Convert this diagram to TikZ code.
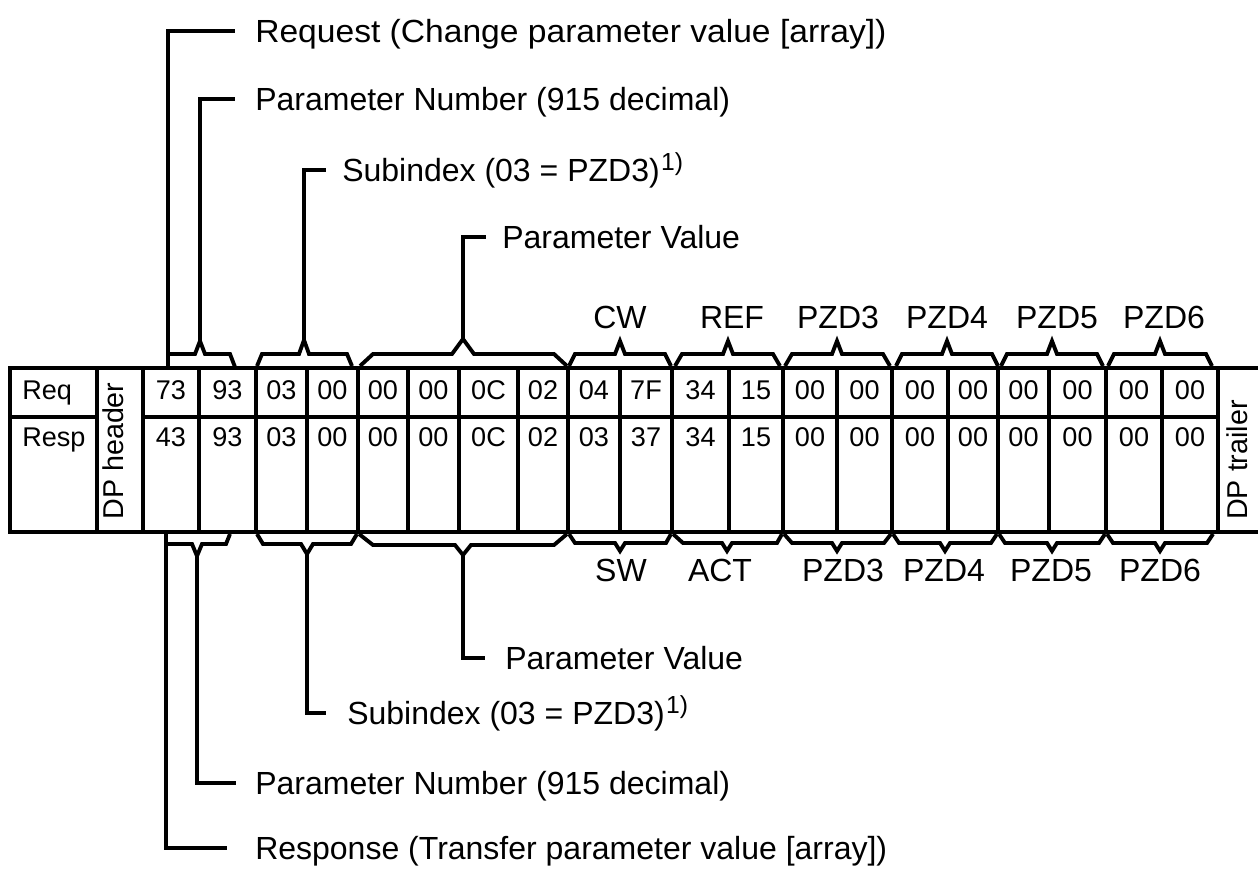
\documentclass[tikz,border=0pt]{standalone}
\usepackage{fontspec}
\setmainfont{Liberation Sans}
\newcommand{\fnmark}{\kern1pt\raisebox{8.5pt}{\fontsize{18.5}{20}\selectfont 1)}}
\begin{document}
\begin{tikzpicture}[x=0.75pt,y=-0.75pt,
  big/.style={font=\fontsize{24}{28}\selectfont, inner sep=0pt, text height=17.2pt, text depth=0pt},
  lbl/.style={big, anchor=west},
  num/.style={font=\fontsize{20.3}{24}\selectfont, inner sep=0pt, text height=14.5pt, text depth=0pt},
  dptext/.style={font=\fontsize{21.5}{25}\selectfont, inner sep=0pt, rotate=90, text height=15.4pt, text depth=0pt},
  outer/.style={line width=3.1pt},
  inner/.style={line width=2.7pt},
  brace/.style={line width=2.9pt, line join=miter},
  leader/.style={line width=3.7pt, line join=miter}]
\useasboundingbox (0,0) rectangle (1258,874);

% ---- table frame ----
\draw[outer] (10,368) -- (1258,368);
\draw[outer] (10,532) -- (1258,532);
\draw[outer] (10,366.4) -- (10,533.6);
\foreach \xx in {97,143,199,256,307,358,408,459,518,568,620,672,729,783,837,892,948,998,1049,1106,1162,1218}
  \draw[inner] (\xx,368) -- (\xx,532);
\draw[inner] (10,417) -- (97,417);
\draw[inner] (143,417) -- (1218,417);

% ---- cell texts ----
\node[num, anchor=west] (req) at (22,390) {Req};
\node[num, anchor=west] (resp) at (22,437) {Resp};
\node[dptext] (dph) at (113.5,451) {DP header};
\node[dptext] (dpt) at (1237,460) {DP trailer};
\foreach \i/\a/\b/\u/\v in {1/143/199/73/43, 2/199/256/93/93, 3/256/307/03/03, 4/307/358/00/00,
  5/358/408/00/00, 6/408/459/00/00, 7/459/518/0C/0C, 8/518/568/02/02, 9/568/620/04/03,
  10/620/672/7F/37, 11/672/729/34/34, 12/729/783/15/15, 13/783/837/00/00, 14/837/892/00/00,
  15/892/948/00/00, 16/948/998/00/00, 17/998/1049/00/00, 18/1049/1106/00/00,
  19/1106/1162/00/00, 20/1162/1218/00/00}{
  \node[num] (q\i) at ({(\a+\b)/2},390) {\u};
  \node[num] (s\i) at ({(\a+\b)/2},437) {\v};
}

% ---- top braces ----
\coordinate (tA) at (168,367);
\coordinate (tB) at (200,341);
\coordinate (tC) at (304,340);
\coordinate (tD) at (463,339);
\draw[brace] (168,354) -- (195,354) -- (tB) -- (205,354) -- (230,354) -- (235,367);
\draw[brace] (257,366) -- (262,354) -- (299,354) -- (tC) -- (309,354) -- (347,354) -- (352,366);
\draw[brace] (360,366) -- (373,354) -- (452,354) -- (tD) -- (474,354) -- (554,354) -- (567,366);
\draw[brace] (569,366) -- (575,354) -- (615,354) -- (620,341) -- (625,354) -- (665,354) -- (671,366);
\draw[brace] (675,366) -- (682,354) -- (723,354) -- (728,341) -- (733,354) -- (773,354) -- (780,366);
\draw[brace] (785,366) -- (792,354) -- (832,354) -- (837,341) -- (842,354) -- (883,354) -- (890,366);
\draw[brace] (896,366) -- (902,354) -- (942,354) -- (947,341) -- (952,354) -- (992,354) -- (998,366);
\draw[brace] (1001,366) -- (1007,354) -- (1047,354) -- (1052,341) -- (1057,354) -- (1097,354) -- (1103,366);
\draw[brace] (1108,366) -- (1114,354) -- (1155,354) -- (1160,341) -- (1165,354) -- (1206,354) -- (1212,366);

% ---- bottom braces ----
\coordinate (bA) at (166,533);
\coordinate (bB) at (197,556);
\coordinate (bC) at (307,554);
\coordinate (bD) at (463,555);
\draw[brace] (166,544) -- (192,544) -- (bB) -- (202,544) -- (226,544) -- (230,534);
\draw[brace] (257,534) -- (263,544) -- (301,544) -- (bC) -- (313,544) -- (351,544) -- (357,534);
\draw[brace] (359,534) -- (373,545) -- (455,545) -- (bD) -- (471,545) -- (554,545) -- (567,534);
\draw[brace] (569,534) -- (575,543) -- (615,543) -- (620,551) -- (625,543) -- (666,543) -- (671,534);
\draw[brace] (673,534) -- (683,543) -- (722,543) -- (727,551) -- (732,543) -- (777,543) -- (782,534);
\draw[brace] (784,534) -- (792,543) -- (832,543) -- (837,551) -- (842,543) -- (884,543) -- (891,534);
\draw[brace] (893,534) -- (899,543) -- (940,543) -- (945,551) -- (950,543) -- (991,543) -- (997,534);
\draw[brace] (999,534) -- (1005,543) -- (1047,543) -- (1052,551) -- (1057,543) -- (1099,543) -- (1105,534);
\draw[brace] (1107,534) -- (1113,543) -- (1155,543) -- (1160,551) -- (1165,543) -- (1207,543) -- (1213,534);

% ---- group labels ----
\node[big] (cw) at (620,317) {CW};
\node[big] (ref) at (732,317) {REF};
\node[big] (tp3) at (838,317) {PZD3};
\node[big] (tp4) at (947,317) {PZD4};
\node[big] (tp5) at (1057,317) {PZD5};
\node[big] (tp6) at (1164,317) {PZD6};
\node[big] (sw) at (621,570) {SW};
\node[big] (act) at (720,570) {ACT};
\node[big] (bp3) at (843,570) {PZD3};
\node[big] (bp4) at (944,570) {PZD4};
\node[big] (bp5) at (1051,570) {PZD5};
\node[big] (bp6) at (1160,570) {PZD6};

% ---- leader labels ----
\node[lbl, xscale=1.05] (lreq) at (255,31) {Request (Change parameter value [array])};
\node[lbl] (lpn) at (255,99) {Parameter Number (915 decimal)};
\node[lbl] (lsi) at (342,170) {Subindex (03 = PZD3)\fnmark};
\node[lbl] (lpv) at (502,237) {Parameter Value};
\node[lbl] (mpv) at (505,658) {Parameter Value};
\node[lbl] (msi) at (347,713) {Subindex (03 = PZD3)\fnmark};
\node[lbl] (mpn) at (255,783) {Parameter Number (915 decimal)};
\node[lbl] (mresp) at (255,848) {Response (Transfer parameter value [array])};

% ---- leader lines ----
\draw[leader] (tA) |- ([xshift=-15]lreq.west);
\draw[leader] (tB) |- ([xshift=-15]lpn.west);
\draw[leader] (tC) |- ([xshift=-12]lsi.west);
\draw[leader] (tD) |- ([xshift=-12]lpv.west);
\draw[leader] (bD) |- ([xshift=-15]mpv.west);
\draw[leader] (bC) |- ([xshift=-16]msi.west);
\draw[leader] (bB) |- ([xshift=-14]mpn.west);
\draw[leader] (bA) |- ([xshift=-21]mresp.west);
\end{tikzpicture}
\end{document}
